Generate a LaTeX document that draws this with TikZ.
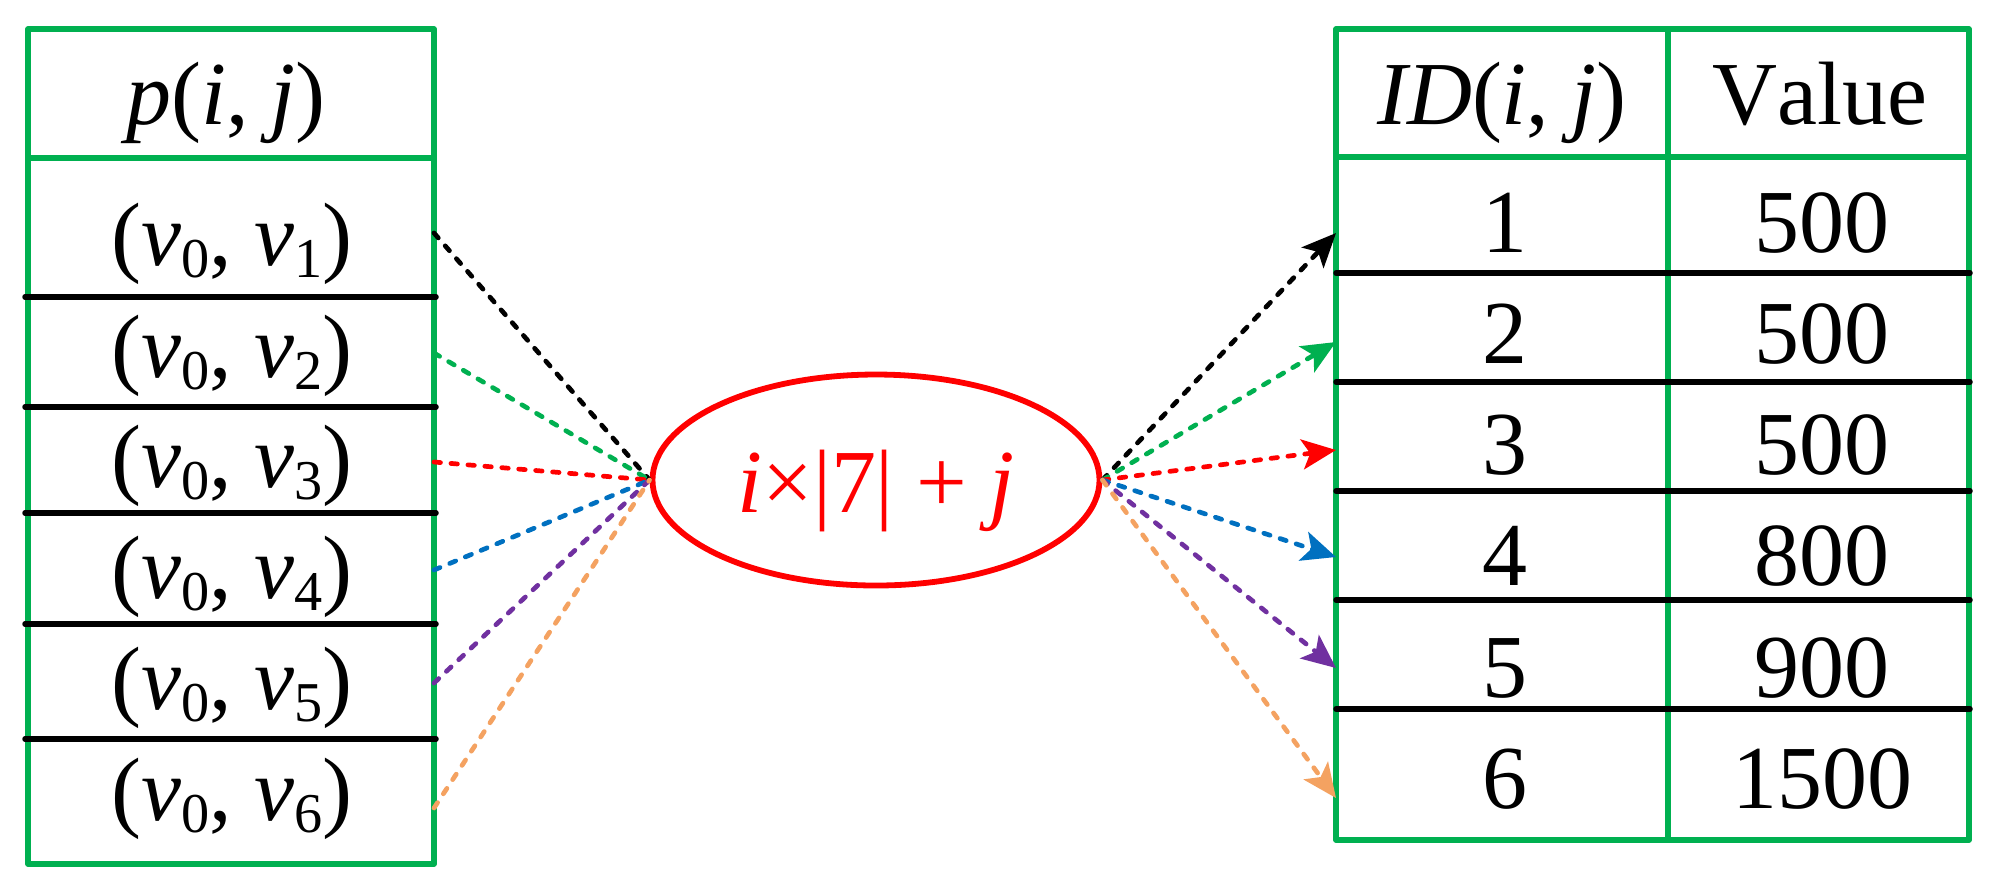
\documentclass[tikz,border=0pt]{standalone}
\usepackage{fontspec}
\setmainfont{Liberation Serif}
\usetikzlibrary{arrows.meta,shapes.geometric}
\definecolor{tabgreen}{RGB}{0,176,80}
\definecolor{lnblue}{RGB}{0,112,192}
\definecolor{lnpurple}{RGB}{112,48,160}
\definecolor{lnorange}{RGB}{244,162,97}
\newcommand{\vsub}[1]{\textit{v}\raisebox{-0.12cm}{\fontsize{16}{16}\selectfont #1}}

\begin{document}
\begin{tikzpicture}[
  font=\fontsize{25.6}{30}\selectfont,
  frame/.style={draw=tabgreen,line width=0.055cm,line join=round},
  rowline/.style={draw=black,line width=0.055cm,line cap=round},
  cell/.style={anchor=base,inner sep=0pt},
  link/.style={line width=0.047cm,line cap=round,dash pattern=on 0.065cm off 0.105cm},
  arr/.style={link,-{Stealth[length=0.34cm,width=0.3cm,inset=0.08cm]}}
]
\useasboundingbox (0,0) rectangle (19.89,-8.85);

\draw[frame] (0.28,-0.29) rectangle (4.34,-8.64);
\draw[frame] (0.28,-1.58) -- (4.34,-1.58);
\draw[rowline] (0.25,-2.97) -- (4.36,-2.97);
\draw[rowline] (0.25,-4.07) -- (4.36,-4.07);
\draw[rowline] (0.25,-5.13) -- (4.36,-5.13);
\draw[rowline] (0.25,-6.24) -- (4.36,-6.24);
\draw[rowline] (0.25,-7.39) -- (4.36,-7.39);

\node[cell] (pij) at (2.26,-1.24) {\textit{p}(\textit{i}, \textit{j})};
\node[cell] (p1) at (2.32,-2.65) {(\vsub{0}, \vsub{1})};
\node[cell] (p2) at (2.32,-3.77) {(\vsub{0}, \vsub{2})};
\node[cell] (p3) at (2.32,-4.87) {(\vsub{0}, \vsub{3})};
\node[cell] (p4) at (2.32,-5.98) {(\vsub{0}, \vsub{4})};
\node[cell] (p5) at (2.32,-7.09) {(\vsub{0}, \vsub{5})};
\node[cell] (p6) at (2.32,-8.20) {(\vsub{0}, \vsub{6})};

\draw[frame] (13.36,-0.29) rectangle (19.69,-8.40);
\draw[frame] (13.36,-1.57) -- (19.69,-1.57);
\draw[frame] (16.68,-0.29) -- (16.68,-8.40);
\draw[rowline] (13.36,-2.73) -- (19.70,-2.73);
\draw[rowline] (13.36,-3.82) -- (19.70,-3.82);
\draw[rowline] (13.36,-4.91) -- (19.70,-4.91);
\draw[rowline] (13.36,-6.00) -- (19.70,-6.00);
\draw[rowline] (13.36,-7.09) -- (19.70,-7.09);

\node[cell] (idh) at (15.02,-1.24) {\textit{ID}(\textit{i}, \textit{j})};
\node[cell] (valh) at (18.20,-1.24) {\addfontfeature{Kerning=Off}Value};
\node[cell] (id1) at (15.05,-2.52) {1};
\node[cell] (id2) at (15.05,-3.63) {2};
\node[cell] (id3) at (15.05,-4.74) {3};
\node[cell] (id4) at (15.05,-5.85) {4};
\node[cell] (id5) at (15.05,-6.97) {5};
\node[cell] (id6) at (15.05,-8.08) {6};
\node[cell] (val1) at (18.22,-2.52) {500};
\node[cell] (val2) at (18.22,-3.63) {500};
\node[cell] (val3) at (18.22,-4.74) {500};
\node[cell] (val4) at (18.22,-5.85) {800};
\node[cell] (val5) at (18.22,-6.97) {900};
\node[cell] (val6) at (18.22,-8.08) {1500};

\node[shape=ellipse,draw=red,line width=0.058cm,minimum width=4.47cm,minimum height=2.11cm,inner sep=0pt,text=red,text height=0.74cm,text depth=0.10cm] (hash) at (8.76,-4.80) {\textit{i}×|7| + \textit{j}};

\coordinate (a1) at (4.34,-2.33);
\coordinate (a2) at (4.34,-3.53);
\coordinate (a3) at (4.34,-4.62);
\coordinate (a4) at (4.34,-5.70);
\coordinate (a5) at (4.34,-6.83);
\coordinate (a6) at (4.34,-8.08);
\coordinate (b1) at (13.36,-2.33);
\coordinate (b2) at (13.36,-3.42);
\coordinate (b3) at (13.36,-4.50);
\coordinate (b4) at (13.36,-5.57);
\coordinate (b5) at (13.36,-6.68);
\coordinate (b6) at (13.36,-7.98);

\path (a1) edge[link,black] (hash.west);
\path (a2) edge[link,tabgreen] (hash.west);
\path (a3) edge[link,red] (hash.west);
\path (a4) edge[link,lnblue] (hash.west);
\path (a5) edge[link,lnpurple] (hash.west);
\path (a6) edge[link,lnorange] (hash.west);
\path (hash.east) edge[arr,black] (b1);
\path (hash.east) edge[arr,tabgreen] (b2);
\path (hash.east) edge[arr,red] (b3);
\path (hash.east) edge[arr,lnblue] (b4);
\path (hash.east) edge[arr,lnpurple] (b5);
\path (hash.east) edge[arr,lnorange] (b6);
\end{tikzpicture}
\end{document}
